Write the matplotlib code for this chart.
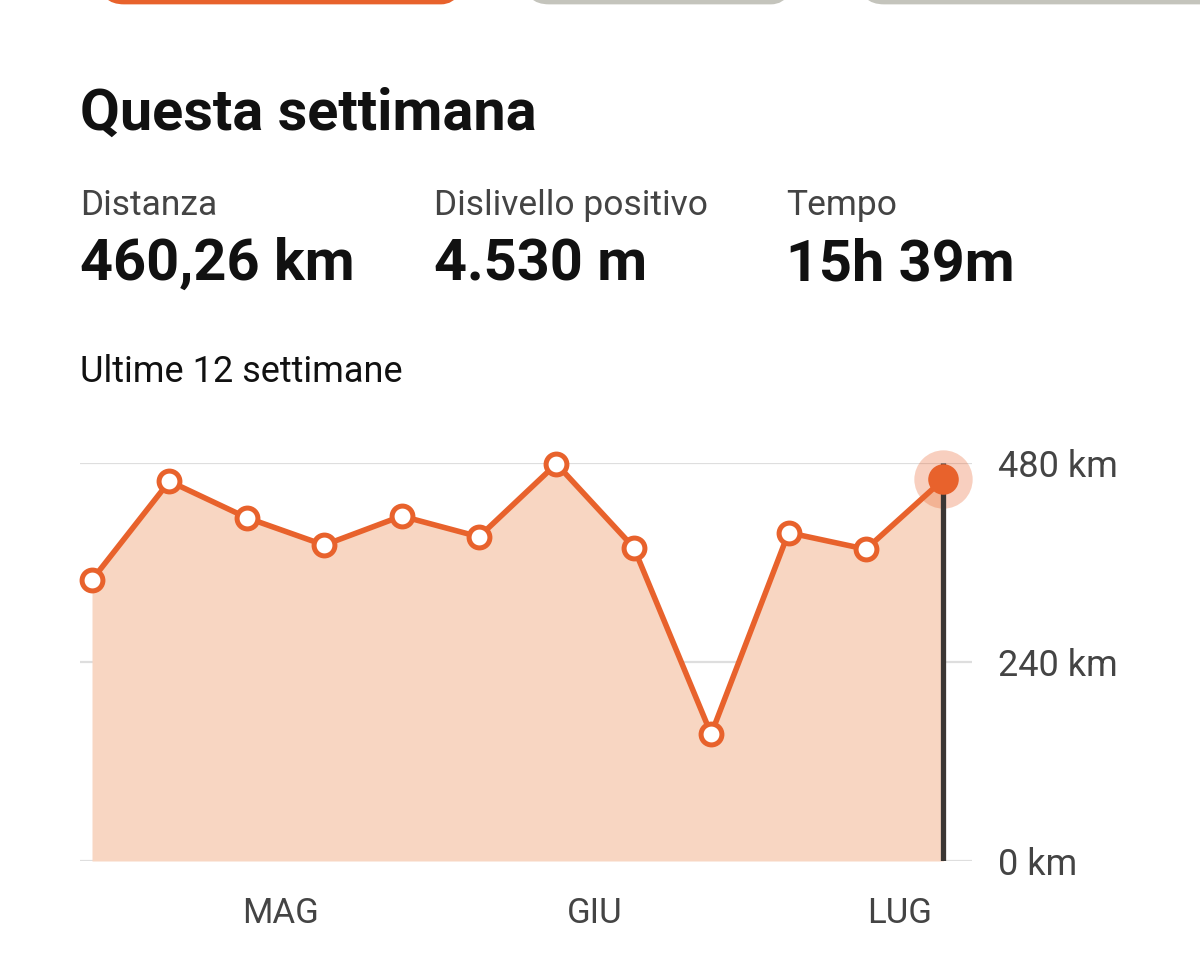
import numpy as np
import matplotlib
matplotlib.use("Agg")
import matplotlib.pyplot as plt
from matplotlib.patches import FancyBboxPatch

plt.rcParams['font.family'] = ['Roboto', 'DejaVu Sans']

# Dati: km per settimana (ultime 12 settimane)
settimane = np.arange(12)
km = [339, 458, 414, 381, 416, 391, 479, 378, 153, 396, 376, 460.26]

mesi = ["MAG", "GIU", "LUG"]
mesi_pos = [2.43, 6.5, 10.44]

y_ticks = [0, 240, 480]
y_labels = ["0 km", "240 km", "480 km"]

arancio = "#E8622C"
riempimento = "#F8D6C2"
grigio_testo = "#444444"

W, H = 1200, 955
fig = plt.figure(figsize=(W / 100, H / 100), dpi=100)

# Sfondo per testi e pulsanti (coordinate in pixel)
bg = fig.add_axes([0, 0, 1, 1])
bg.set_xlim(0, W)
bg.set_ylim(H, 0)
bg.axis("off")

# Pulsanti tagliati in alto
for x0, x1, col in [(102, 463, arancio), (527, 793, "#C4C4BC"), (862, 1230, "#C4C4BC")]:
    bg.add_patch(FancyBboxPatch((x0, -60), x1 - x0, 62,
                                boxstyle="round,pad=0,rounding_size=22",
                                fill=False, edgecolor=col, linewidth=3.4))

bg.text(80, 130, "Questa settimana", fontsize=41.5, fontweight="bold", color="#111111", va="baseline")

for x, lab, val in [(80, "Distanza", "460,26 km"),
                    (434, "Dislivello positivo", "4.530 m"),
                    (786, "Tempo", "15h 39m")]:
    bg.text(x, 215, lab, fontsize=25.5, color=grigio_testo, va="baseline")
    bg.text(x, 280, val, fontsize=41.5, fontweight="bold", color="#111111", va="baseline")

bg.text(80, 382, "Ultime 12 settimane", fontsize=26, color="#111111", va="baseline")

# Grafico
ax = fig.add_axes([80 / W, (H - 861) / H, 892 / W, 398 / H])
ax.set_xlim(-0.155, 11.37)
ax.set_ylim(0, 480)

ax.fill_between(settimane, 0, km, color=riempimento, linewidth=0, zorder=1)
ax.plot(settimane[-1], km[-1], "o", markersize=42, color=arancio, alpha=0.3,
        markeredgewidth=0, zorder=2, clip_on=False)
ax.vlines(settimane[-1], 0, 480, color="#3B3633", linewidth=3.8, zorder=3)
ax.plot(settimane, km, color=arancio, linewidth=4, zorder=4,
        marker="o", markersize=15, markerfacecolor="white",
        markeredgecolor=arancio, markeredgewidth=3.6, clip_on=False)
ax.plot(settimane[-1], km[-1], "o", markersize=22, color=arancio,
        markeredgewidth=0, zorder=5, clip_on=False)

for s in ax.spines.values():
    s.set_visible(False)

ax.yaxis.tick_right()
ax.set_yticks(y_ticks)
ax.set_yticklabels(y_labels)
ax.grid(axis="y", color="#DEDEDE", linewidth=1.6, zorder=0)
ax.set_axisbelow(True)

ax.set_xticks(mesi_pos)
ax.set_xticklabels(mesi)
ax.tick_params(axis="y", length=0, pad=19, labelsize=26, labelcolor=grigio_testo)
ax.tick_params(axis="x", length=0, pad=26, labelsize=25, labelcolor=grigio_testo)

fig.savefig("out.png", dpi=100)
